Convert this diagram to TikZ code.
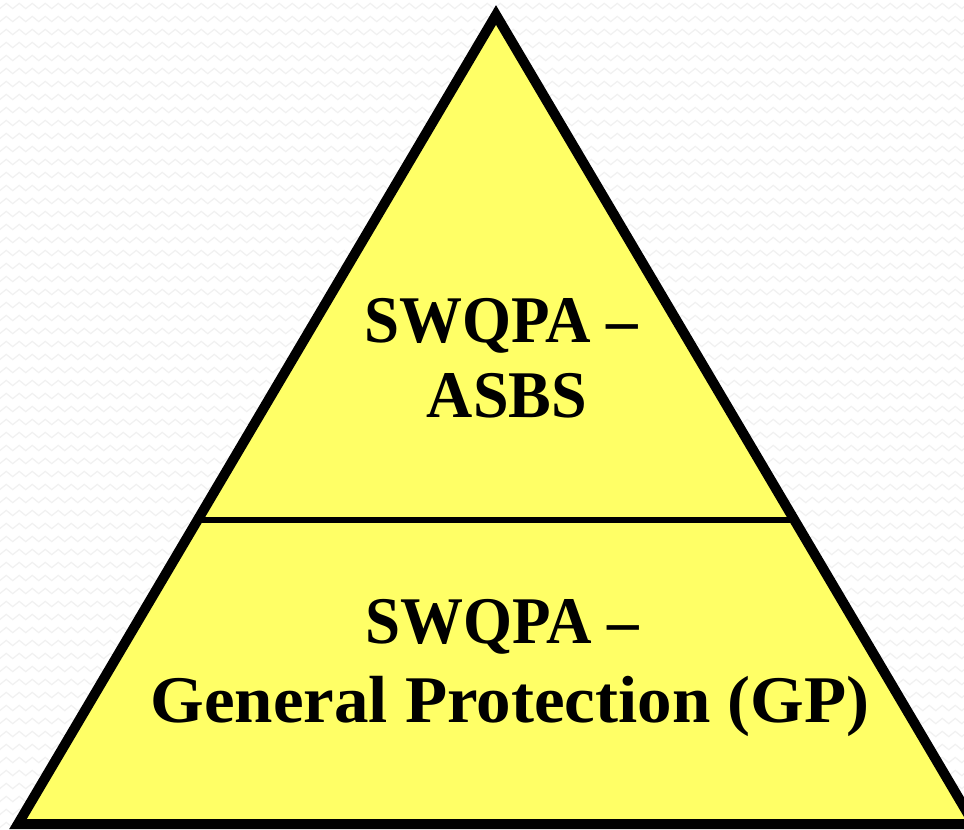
\documentclass[tikz,border=0pt]{standalone}
\usepackage{fontspec}
\setmainfont{Liberation Serif}
\usepackage{xcolor}
\usetikzlibrary{decorations.pathmorphing}

\definecolor{pyryellow}{RGB}{255,255,102}
\definecolor{wavegray}{RGB}{241,241,241}

\tikzset{
    layertext/.style={font=\fontsize{50}{56}\selectfont\bfseries, anchor=base, inner sep=0pt},
    wave/.style={wavegray, line width=0.9pt, decorate,
        decoration={zigzag, segment length=9.75pt, amplitude=2pt}}
}

\begin{document}
\begin{tikzpicture}[x=0.75pt, y=-0.75pt]

    \useasboundingbox (0,0) rectangle (964,829);
    \clip (0,0) rectangle (964,829);
    \fill[white] (0,0) rectangle (964,829);

    \foreach \y in {6,19,...,830}
        \draw[wave] (-10,\y) -- (975,\y);

    \coordinate (apex) at (496,15);
    \coordinate (bl) at (18,824);
    \coordinate (br) at (974,824);
    \coordinate (ml) at (199,520);
    \coordinate (mr) at (796,520);

    \draw[line width=7.5pt, fill=pyryellow, miter limit=10] (apex) -- (br) -- (bl) -- cycle;
    \draw[line width=5.2pt] (ml) -- (mr);

    \node[layertext] (topa) at (501,342) {\scalebox{0.945}[1]{SWQPA –}};
    \node[layertext] (topb) at (507,417) {\scalebox{0.96}[1]{ASBS}};

    \node[layertext] (gpa) at (502,643) {\scalebox{0.945}[1]{SWQPA –}};
    \node[layertext] (gpb) at (510,722) {\scalebox{1.035}[1]{General Protection (GP)}};

\end{tikzpicture}
\end{document}
